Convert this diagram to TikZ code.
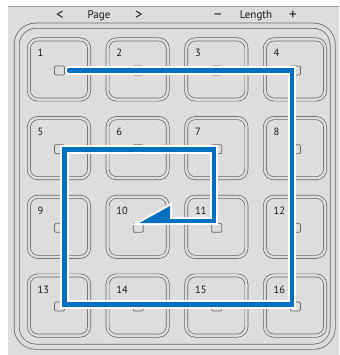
\documentclass[tikz,border=0pt]{standalone}
\usepackage{fontspec}
\setmainfont{PT Sans}
\definecolor{bg}{HTML}{DDDDDD}
\definecolor{ln}{HTML}{686868}
\definecolor{routeblue}{RGB}{0,112,192}
\begin{document}
\begin{tikzpicture}[x=1pt,y=-1pt,
  hdr/.style={anchor=base,inner sep=0pt,text=black!90,font=\fontsize{11}{12}\selectfont},
  hsym/.style={anchor=base,inner sep=0pt,text=black!90,font=\fontsize{15}{16}\selectfont},
  keybox/.style={draw=ln,double=bg,double distance=2.4pt,line width=0.7pt,
    rounded corners=9pt,minimum size=60.2pt,inner sep=0pt},
  framebox/.style={draw=ln,double=bg,double distance=4.4pt,line width=0.75pt,
    rounded corners=19pt,minimum width=316pt,minimum height=321pt,inner sep=0pt},
  keynum/.style={anchor=base west,inner sep=0pt,text=black!90,font=\fontsize{10.5}{12}\selectfont},
  led/.style={draw=ln,fill=bg,line width=0.7pt,rounded corners=1.2pt,
    minimum width=10pt,minimum height=9pt,inner sep=0pt},
  routewhite/.style={draw=white,line width=8.5pt,line join=miter,line cap=round},
  routeline/.style={draw=routeblue,line width=4.5pt,line join=miter,line cap=round}]
\useasboundingbox (0,0) rectangle (339,355);
\fill[bg] (8,6) rectangle (339,355);
\draw[ln!60,line width=0.6pt] (8,6) -- (339,6);
% header
\node[hsym] (pless) at (60,20) {<};
\node[hdr] (page) at (99,19) {Page};
\node[hsym] (pmore) at (139,20) {>};
\node[hsym] (lminus) at (218,20) {−};
\node[hdr] (length) at (256,19) {Length};
\node[hsym] (lplus) at (293,20) {+};
% frame
\node[framebox] (frame) at (174.7,186.2) {};
% keys
\foreach \r in {0,...,3}{
  \foreach \c in {0,...,3}{
    \pgfmathtruncatemacro\n{4*\r+\c+1}
    \pgfmathsetmacro\cx{59+78.67*\c}
    \pgfmathsetmacro\cy{69.5+78.67*\r}
    \node[keybox] (k\n) at (\cx,\cy) {};
    \node[keynum] (n\n) at (\cx-21.5,\cy-12.5) {\n};
    \node[led] (l\n) at (\cx+0.5,\cy+1) {};
  }
}
% path
\coordinate (a0) at (69,70.5);
\coordinate (a1) at (292,70.5);
\coordinate (a2) at (292,304.5);
\coordinate (a3) at (64.5,304.5);
\coordinate (a4) at (64.5,149.5);
\coordinate (a5) at (214,149.5);
\coordinate (a6) at (214,221);
\coordinate (a7) at (168,221);
\coordinate (t1) at (139,223.2);
\coordinate (t2) at (170,206);
\coordinate (t3) at (170,223.2);
\draw[routewhite] (a0) -- (a1) -- (a2) -- (a3) -- (a4) -- (a5) -- (a6) -- (a7);
\draw[draw=white,line width=4pt,line join=miter,fill=white] (t1) -- (t2) -- (t3) -- cycle;
\draw[routeline] (a0) -- (a1) -- (a2) -- (a3) -- (a4) -- (a5) -- (a6) -- (a7);
\fill[routeblue] (t1) -- (t2) -- (t3) -- cycle;
\end{tikzpicture}
\end{document}
